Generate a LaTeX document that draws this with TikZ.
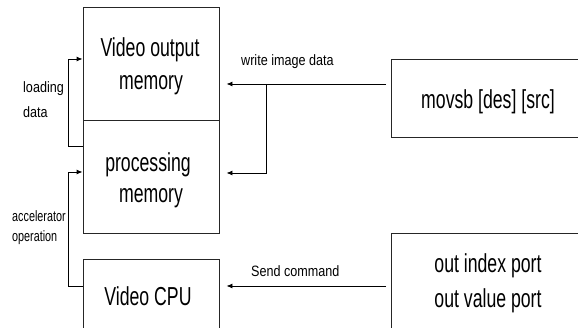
\documentclass[tikz,border=0pt]{standalone}
\usepackage{fontspec}
\setmainfont{Liberation Sans}
\newfontfamily\boxfont[FakeStretch=0.68]{Liberation Sans}
\newfontfamily\labfont[FakeStretch=0.84]{Liberation Sans}
\newfontfamily\accfont[FakeStretch=0.72]{Liberation Sans}
\usetikzlibrary{arrows.meta}
\begin{document}
\begin{tikzpicture}[x=1pt,y=-1pt,
  blk/.style={draw=black!85,line width=0.9pt,rectangle,inner sep=0pt},
  btxt/.style={font=\boxfont\fontsize{26}{30}\selectfont,anchor=base,inner sep=0pt},
  ltxt/.style={font=\labfont\fontsize{15}{17}\selectfont,anchor=base west,inner sep=0pt},
  atxt/.style={font=\accfont\fontsize{15}{17}\selectfont,anchor=base west,inner sep=0pt},
  conn/.style={draw=black,line width=0.9pt},
  arr/.style={conn,-{Latex[length=6pt,width=5pt]}}]
\useasboundingbox (0,0) rectangle (578,328);
\clip (0,0) rectangle (578,328);
% boxes
\node[blk,minimum width=136pt,minimum height=113pt] (vom) at (151,63.5) {};
\node[blk,minimum width=136pt,minimum height=113pt] (pm) at (151,176.5) {};
\node[blk,minimum width=136pt,minimum height=81pt] (cpu) at (151,299.5) {};
\node[blk,minimum width=199pt,minimum height=78pt] (mov) at (490.5,98) {};
\node[blk,minimum width=199pt,minimum height=107pt] (out) at (490.5,286.5) {};
% box texts
\node[btxt] (t1) at (150,57) {Video output};
\node[btxt] (t2) at (151,90) {memory};
\node[btxt] (t3) at (148,172) {processing};
\node[btxt] (t4) at (151,203) {memory};
\node[btxt] (t5) at (148,306) {Video CPU};
\node[btxt] (t6) at (488,109) {movsb [des] [src]};
\node[btxt] (t7) at (488,273) {out index port};
\node[btxt] (t8) at (488,308) {out value port};
% labels
\node[ltxt] (l1) at (23,93) {loading};
\node[ltxt] (l2) at (23,118) {data};
\node[atxt] (l3) at (12,222) {accelerator};
\node[atxt] (l4) at (12,242) {operation};
\node[ltxt] (l5) at (241,66) {write image data};
\node[ltxt] (l6) at (251,277) {Send command};
% connector points
\coordinate (ws) at (386,84);
\coordinate (wb) at (266,84);
\coordinate (wp) at (266,173);
\coordinate (ss) at (386,286);
\coordinate (la) at (68,146);
\coordinate (lb) at (68,59);
\coordinate (aa) at (68,286);
\coordinate (ab) at (68,172);
% connectors
\draw[arr,shorten >=7pt] (ws) -- (vom.east |- ws);
\draw[arr,shorten >=7pt] (wb) -- (wp) -- (pm.east |- wp);
\draw[arr,shorten >=7pt] (ss) -- (cpu.east |- ss);
\draw[arr] (pm.west |- la) -- (la) -- (lb) -- (vom.west |- lb);
\draw[arr] (cpu.west |- aa) -- (aa) -- (ab) -- (pm.west |- ab);
\end{tikzpicture}
\end{document}
